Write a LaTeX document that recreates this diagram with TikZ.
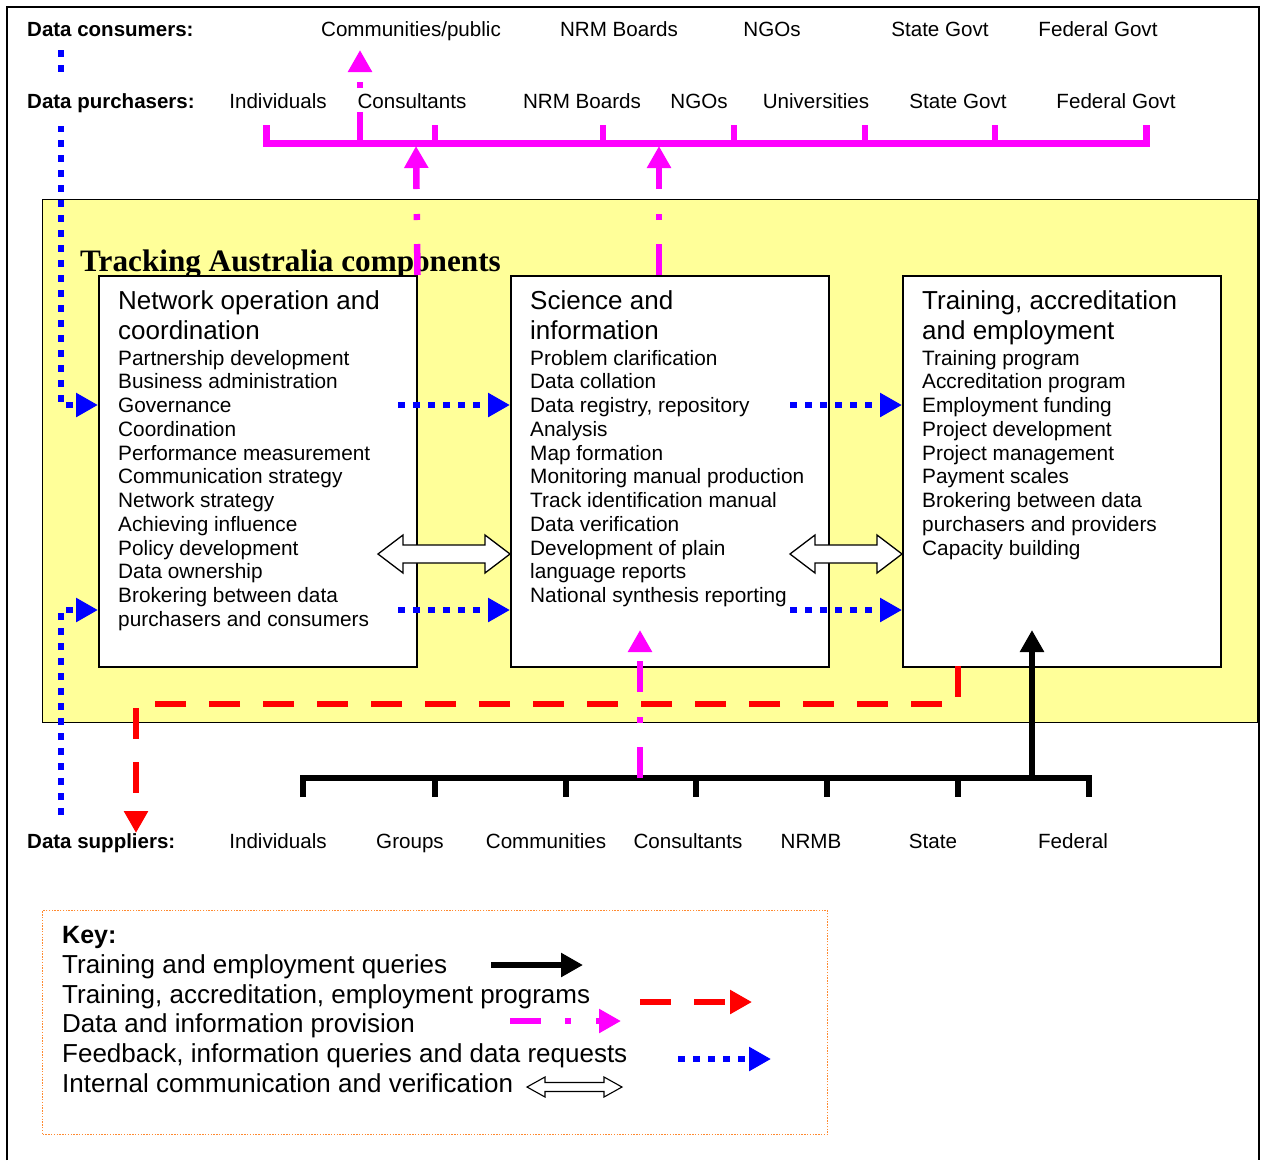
\documentclass[tikz,border=0pt]{standalone}
\usepackage{fontspec}
\setmainfont{Liberation Sans}
\newfontfamily\serifbf{Liberation Serif}
\usetikzlibrary{arrows.meta}
\definecolor{ylw}{HTML}{FFFF99}
\definecolor{mag}{HTML}{FF00FF}
\definecolor{blu}{HTML}{0000FF}
\definecolor{rd}{HTML}{FF0000}
\definecolor{org}{HTML}{FF8A30}
\begin{document}
\begin{tikzpicture}[x=1pt,y=-1pt,
 comp/.style={draw=black, line width=1.5pt, fill=white, minimum width=318pt, minimum height=391pt, anchor=north west, inner sep=0},
 ttl/.style={anchor=base west, inner sep=0, font=\fontsize{26}{30}\selectfont},
 item/.style={anchor=base west, inner sep=0, font=\fontsize{20.8}{24}\selectfont},
 lbl/.style={anchor=base, inner sep=0, font=\fontsize{20.6}{24}\selectfont},
 hdr/.style={anchor=base west, inner xsep=0, inner ysep=14pt, fill=white, font=\fontsize{20.5}{24}\bfseries\selectfont},
 keytxt/.style={anchor=base west, inner sep=0, font=\fontsize{26}{30}\selectfont},
 arrowtip/.style={-{Triangle[length=22pt,width=23pt]}},
 feedback/.style={blu, line width=6.5pt, dash pattern=on 7pt off 8pt, arrowtip},
 provision/.style={mag, line width=6.5pt, dash pattern=on 31pt off 24pt on 6pt off 25pt, arrowtip},
 program/.style={rd, line width=6.5pt, dash pattern=on 31pt off 23pt, arrowtip},
 query/.style={black, line width=6pt, arrowtip},
 pics/hollowdbl/.style={code={\draw[black, line width=1.3pt, fill=white, line join=miter]
   (0,0) -- (25,-19) -- (25,-9) -- (#1-25,-9) -- (#1-25,-19) -- (#1,0) -- (#1-25,19) -- (#1-25,9) -- (25,9) -- (25,19) -- cycle;}},
 pics/hollowsm/.style={code={\draw[black, line width=1.1pt, fill=white, line join=miter]
   (0,0) -- (18,-10) -- (18,-4.5) -- (#1-18,-4.5) -- (#1-18,-10) -- (#1,0) -- (#1-18,10) -- (#1-18,4.5) -- (18,4.5) -- (18,10) -- cycle;}},
]
\useasboundingbox (0,0) rectangle (1267,1160);
\fill[white] (0,0) rectangle (1267,1160);
\draw[line width=1.5pt] (7,1160) -- (7,7) -- (1259,7) -- (1259,1160);

% panel
\node[draw=black, line width=1.2pt, fill=ylw, minimum width=1215pt, minimum height=523pt, anchor=north west, inner sep=0] (panel) at (42,199) {};
\node[anchor=base west, inner sep=0, font=\serifbf\fontsize{31.2}{34}\bfseries\selectfont] (ptitle) at (80,271) {Tracking Australia components};

\node[comp] (b1) at (98,275) {};
\node[comp] (b2) at (510,275) {};
\node[comp] (b3) at (902,275) {};

\foreach \t [count=\i] in {Network operation and, coordination}
  \node[ttl] (t1-\i) at (118,{309+30*(\i-1)}) {\t};
\foreach \t [count=\i] in {Partnership development, Business administration, Governance, Coordination, Performance measurement, Communication strategy, Network strategy, Achieving influence, Policy development, Data ownership, Brokering between data, purchasers and consumers}
  \node[item] (i1-\i) at (118,{365+23.75*(\i-1)}) {\t};

\foreach \t [count=\i] in {Science and, information}
  \node[ttl] (t2-\i) at (530,{309+30*(\i-1)}) {\t};
\foreach \t [count=\i] in {Problem clarification, Data collation, {Data registry, repository}, Analysis, Map formation, Monitoring manual production, Track identification manual, Data verification, Development of plain, language reports, National synthesis reporting}
  \node[item] (i2-\i) at (530,{365+23.75*(\i-1)}) {\t};

\foreach \t [count=\i] in {{Training, accreditation}, and employment}
  \node[ttl] (t3-\i) at (922,{309+30*(\i-1)}) {\t};
\foreach \t [count=\i] in {Training program, Accreditation program, Employment funding, Project development, Project management, Payment scales, Brokering between data, purchasers and providers, Capacity building}
  \node[item] (i3-\i) at (922,{365+23.75*(\i-1)}) {\t};

% labels
\node[hdr] (consumers) at (27,36) {Data consumers:};
\node[hdr] (purchasers) at (27,108) {Data purchasers:};
\node[hdr, fill=none] (suppliers) at (27,848) {Data suppliers:};
\node[lbl] (c-1) at (411,36) {Communities/public};
\foreach \t/\x [count=\i from 2] in {NRM Boards/619, NGOs/772, State Govt/940, Federal Govt/1098}
  \node[lbl] (c-\i) at (\x,36) {\t};
\foreach \t/\x [count=\i] in {Individuals/278, Consultants/412, NRM Boards/582, NGOs/699, Universities/816, State Govt/958, Federal Govt/1116}
  \node[lbl] (p-\i) at (\x,108) {\t};
\foreach \t/\x [count=\i] in {Individuals/278, Groups/410, Communities/546, Consultants/688, NRMB/811, State/933, Federal/1073}
  \node[lbl] (s-\i) at (\x,848) {\t};

% coordinates
\coordinate (mbL) at (266,125);
\coordinate (mbR) at (1146,125);
\coordinate (mb360) at (360,143);
\coordinate (ctip) at (360,50);
\coordinate (mb416) at (416,146);
\coordinate (s2top) at (659,275);
\coordinate (mb659) at (659,146);
\coordinate (kbL) at (303,797);
\coordinate (kbR) at (1089,797);
\coordinate (kb1032) at (1032,778);
\coordinate (q3) at (1032,630);
\coordinate (kb640) at (640,778);
\coordinate (q2) at (640,630);
\coordinate (r3) at (958,666);
\coordinate (rc1) at (958,704);
\coordinate (rc2) at (136,704);
\coordinate (rtip) at (136,833);
\coordinate (bTop) at (61,50);
\coordinate (bTc) at (61,405);
\coordinate (bBot) at (61,815);
\coordinate (bBc) at (61,610);
\coordinate (f1a) at (398,405);
\coordinate (f1b) at (398,610);
\coordinate (f2a) at (790,405);
\coordinate (f2b) at (790,610);

% magenta bus
\draw[mag, line width=7pt, line join=miter] (mbL) -- (mbL |- mb360) -- (mbR |- mb360) -- (mbR);
\foreach \x in {435,603,734,865,995}
  \draw[mag, line width=6pt] (\x,143) -- (\x,125);
\draw[provision] (mb360) -- (ctip);
\draw[provision] (b1.north east) -- (mb416);
\draw[provision] (s2top) -- (mb659);

% black bus
\draw[black, line width=6pt, line join=miter] (kbL) -- (kbL |- kb1032) -- (kbR |- kb1032) -- (kbR);
\foreach \x in {435,566,696,827,958}
  \draw[black, line width=6pt] (\x,778) -- (\x,797);
\draw[query] (kb1032) -- (q3);
\draw[provision] (kb640) -- (q2);

% red programs
\draw[program] (r3) -- (rc1) -- (rc2) -- (rtip);

% blue feedback
\draw[feedback] (bTop) -- (bTc) -- (b1.west |- bTc);
\draw[feedback] (bBot) -- (bBc) -- (b1.west |- bBc);
\draw[feedback] (f1a) -- (b2.west |- f1a);
\draw[feedback] (f1b) -- (b2.west |- f1b);
\draw[feedback] (f2a) -- (b3.west |- f2a);
\draw[feedback] (f2b) -- (b3.west |- f2b);
\node[hdr] (purchasers2) at (27,108) {Data purchasers:};

% internal
\pic at (378,554) {hollowdbl=132};
\pic at (790,554) {hollowdbl=112};

% key
\node[draw=org, dash pattern=on 1.4pt off 1.4pt, line width=1.3pt, minimum width=785pt, minimum height=224pt, anchor=north west, inner sep=0] (keybox) at (42,910) {};
\node[keytxt, font=\fontsize{25}{30}\bfseries\selectfont] (k0) at (62,943) {Key:};
\node[keytxt] (k1) at (62,973) {Training and employment queries};
\node[keytxt] (k2) at (62,1003) {Training, accreditation, employment programs};
\node[keytxt] (k3) at (62,1032) {Data and information provision};
\node[keytxt] (k4) at (62,1062) {Feedback, information queries and data requests};
\node[keytxt] (k5) at (62,1092) {Internal communication and verification};
\coordinate (ka1) at (491,965); \coordinate (kz1) at (583,965);
\coordinate (ka2) at (640,1002); \coordinate (kz2) at (752,1002);
\coordinate (ka3) at (510,1021); \coordinate (kz3) at (621,1021);
\coordinate (ka4) at (678,1059); \coordinate (kz4) at (771,1059);
\draw[query] (ka1) -- (kz1);
\draw[program] (ka2) -- (kz2);
\draw[provision] (ka3) -- (kz3);
\draw[feedback] (ka4) -- (kz4);
\pic at (527,1087) {hollowsm=95};
\end{tikzpicture}
\end{document}
